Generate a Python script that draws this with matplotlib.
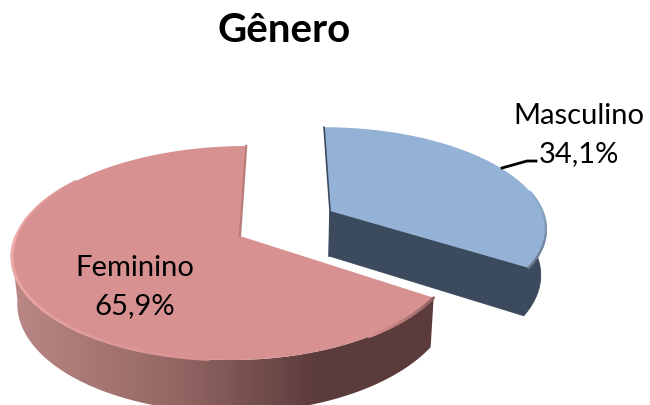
import numpy as np
import matplotlib
matplotlib.use("Agg")
import matplotlib.pyplot as plt
from matplotlib.collections import LineCollection
from matplotlib.colors import LinearSegmentedColormap, to_rgb
from matplotlib.patches import Polygon

categorias = ["Masculino", "Feminino"]
valores = [34.1, 65.9]
titulo = "Gênero"

plt.rcParams["font.family"] = ["Lato", "DejaVu Sans"]

# ===== Perspectiva del pastel =====
XC, CX = 285, 224
A, B, K = -420, 656, 0.159
ESCALA_X, ESCALA_Y, DESP_Y = 0.98, 1.05, 34.5
corte = 90 - valores[0] / sum(valores) * 360  # angulo donde acaba el primer sector


def borde_sup(ox, oy, ang, f_der=1.0):
    # ox en pixeles, oy en radios: desplazamiento del sector
    rad = np.radians(ang)
    w = 1 + K * (oy + np.sin(rad))
    c = np.cos(rad)
    return XC + (ox + CX * np.where(c > 0, c * f_der, c)) / w, A + B / w


def centro(ox, oy):
    w = 1 + K * oy
    return XC + ox / w, A + B / w


def abajo(x, y):
    return XC + (np.asarray(x) - XC) * ESCALA_X, np.asarray(y) * ESCALA_Y + DESP_Y


def borde_color(ax, x, y, c1, c2, lw):
    pts = np.column_stack([x, y])
    segs = np.stack([pts[:-1], pts[1:]], axis=1)
    t = np.linspace(0, 1, len(segs))[:, None]
    cols = (1 - t) * np.array(to_rgb(c1)) + t * np.array(to_rgb(c2))
    ax.add_collection(LineCollection(segs, colors=cols, linewidths=lw, capstyle="round", zorder=4))


fig = plt.figure(figsize=(6.5, 4.05), dpi=100)
ax = fig.add_axes([0, 0, 1, 1])
ax.set_xlim(0, 650)
ax.set_ylim(405, 0)
ax.axis("off")

ax.text(284, 31, titulo, ha="center", va="center", fontsize=29, fontweight="bold", color="black")

# ===== Sector Feminino =====
ox_f, oy_f = -45, 0
F_DER = 0.96
ang_lado = np.linspace(corte, -171, 200)
x_r, y_r = borde_sup(ox_f, oy_f, ang_lado, F_DER)
x_b, y_b = abajo(x_r, y_r)
lado = Polygon(np.column_stack([np.r_[x_r, x_b[::-1]], np.r_[y_r, y_b[::-1]]]),
               closed=True, facecolor="none", edgecolor="none")
ax.add_patch(lado)
cmap_f = LinearSegmentedColormap.from_list(
    "lado_f", [(0, "#ba8785"), (0.38, "#946764"), (0.72, "#5b3b3b"), (1, "#5b3b3b")])
img = ax.imshow(np.linspace(0, 1, 256)[None, :], cmap=cmap_f, extent=[13, 440, 405, 130],
                aspect="auto", zorder=2)
img.set_clip_path(lado)

ang_f = np.linspace(corte, 90 - 360, 300)
x_t, y_t = borde_sup(ox_f, oy_f, ang_f, F_DER)
cx_f, cy_f = centro(ox_f, oy_f)
ax.add_patch(Polygon(np.column_stack([np.r_[cx_f, x_t], np.r_[cy_f, y_t]]), closed=True,
                     facecolor="#d79190", edgecolor="none", zorder=3))
# bisel del borde
a1 = np.linspace(corte, corte - 24, 40)
borde_color(ax, *borde_sup(ox_f, oy_f, a1, F_DER), "#8c5f5e", "#d79190", 2.0)
a2 = np.linspace(-95, -180, 80)
borde_color(ax, *borde_sup(ox_f, oy_f, a2), "#d79190", "#f0b0ad", 2.0)
a3 = np.linspace(-180, -215, 40)
borde_color(ax, *borde_sup(ox_f, oy_f, a3), "#f0b0ad", "#d79190", 1.5)
xt_f, yt_f = borde_sup(ox_f, oy_f, 90)
ax.plot([cx_f, xt_f], [cy_f, yt_f], color="#b87c7b", lw=1.6, zorder=4)

# ===== Sector Masculino =====
ox_m, oy_m = 46.8, 0.25
F_DER_M = 0.985
cx_m, cy_m = centro(ox_m, oy_m)
x_e, y_e = borde_sup(ox_m, oy_m, corte, F_DER_M)
xb_c, yb_c = abajo([cx_m, x_e], [cy_m, y_e])
ax.add_patch(Polygon([(cx_m, cy_m), (x_e, y_e), (xb_c[1], yb_c[1]), (xb_c[0], yb_c[0])],
                     closed=True, facecolor="#3b4a5d", edgecolor="#3b4a5d", lw=0.6, zorder=2))
ang_s = np.linspace(corte, 2, 60)
xs, ys = borde_sup(ox_m, oy_m, ang_s, F_DER_M)
xsb, ysb = abajo(xs, ys)
ax.add_patch(Polygon(np.column_stack([np.r_[xs, xsb[::-1]], np.r_[ys, ysb[::-1]]]),
                     closed=True, facecolor="#3b4a5d", edgecolor="#3b4a5d", lw=0.6, zorder=2))
ang_m = np.linspace(90, corte, 150)
xm, ym = borde_sup(ox_m, oy_m, ang_m, F_DER_M)
ax.add_patch(Polygon(np.column_stack([np.r_[cx_m, xm], np.r_[cy_m, ym]]), closed=True,
                     facecolor="#94b2d6", edgecolor="none", zorder=3))
a4 = np.linspace(corte, 12, 50)
borde_color(ax, *borde_sup(ox_m, oy_m, a4, F_DER_M), "#66758b", "#94b2d6", 1.6)
xt_m, yt_m = borde_sup(ox_m, oy_m, 90)
ax.plot([xt_m, cx_m, xb_c[0]], [yt_m, cy_m, yb_c[0]], color="#3b4a5d", lw=1.2, zorder=4)

# ===== Etiquetas =====
etq = [f"{c}\n{v:.1f}%".replace(".", ",") for c, v in zip(categorias, valores)]
ax.text(579, 135, etq[0], ha="center", va="center", fontsize=21, linespacing=1.55, zorder=6)
ax.text(135, 287, etq[1], ha="center", va="center", fontsize=21, linespacing=1.55, zorder=6)
ax.plot([502, 527, 536], [168, 161, 161], color="black", lw=2, zorder=5)

plt.savefig("out.png", dpi=100)
